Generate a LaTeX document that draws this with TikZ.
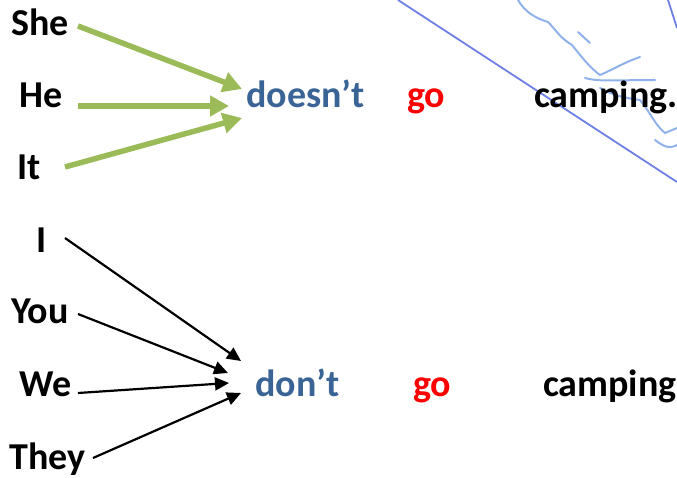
\documentclass[tikz,border=0pt]{standalone}
\usepackage{fontspec}
\setmainfont{Carlito}
\usetikzlibrary{arrows.meta}
\definecolor{gArrow}{HTML}{9BBB59}
\definecolor{auxBlue}{HTML}{3A6496}
\definecolor{penLine}{HTML}{6E7FE6}
\definecolor{penScrib}{HTML}{8FB2EA}
\tikzset{
  word/.style={anchor=base west,inner sep=0pt,font=\fontsize{38}{43}\selectfont\bfseries},
  aux/.style={word,text=auxBlue},
  verb/.style={word,text=red},
  garrow/.style={draw=gArrow,line width=5.5pt,-{Triangle[length=19pt,width=20pt]}},
  barrow/.style={draw=black,line width=2.2pt,-{Triangle[length=14pt,width=13pt]}},
  pen/.style={draw=penLine,line width=1.8pt},
  scrib/.style={draw=penScrib,line width=2pt,line cap=round,line join=round}
}
\begin{document}
\begin{tikzpicture}[x=1pt,y=-1pt]
\useasboundingbox (0,0) rectangle (677,478);
% scanned pen marks
\draw[pen] (398,0) -- (677,182);
\draw[pen] (668,0) -- (677,28);
\draw[scrib] (518,0) .. controls (525,12) and (535,18) .. (548,22)
  .. controls (556,30) and (560,38) .. (572,45)
  .. controls (580,55) and (590,68) .. (600,75)
  .. controls (612,70) and (625,62) .. (640,57);
\draw[scrib] (578,32) -- (590,43);
\draw[scrib] (585,78) .. controls (600,82) and (615,80) .. (655,80);
\draw[scrib] (600,88) .. controls (612,95) and (625,98) .. (640,100)
  .. controls (650,112) and (655,125) .. (665,133) -- (677,128);
\draw[scrib] (655,140) .. controls (662,145) and (668,150) .. (677,145);
% words
\node[word] (She) at (11,36) {She};
\node[word] (He) at (19,108) {He};
\node[word] (It) at (17,180) {It};
\node[aux] (doesnt) at (246,108) {doesn’t};
\node[verb] (go1) at (407,108) {go};
\node[word] (camp1) at (534,108) {camping.};
\node[word] (I) at (36,253) {I};
\node[word] (You) at (11,323) {You};
\node[word] (We) at (19,396) {We};
\node[word] (They) at (9,469) {They};
\node[aux] (dont) at (255,396) {don’t};
\node[verb] (go2) at (413,396) {go};
\node[word] (camp2) at (543,396) {camping};
% arrow ends
\coordinate (sA) at (78,26);  \coordinate (tA) at (242,89);
\coordinate (sB) at (78,106); \coordinate (tB) at (229,106);
\coordinate (sC) at (65,167); \coordinate (tC) at (242,118);
\coordinate (sD) at (65,238); \coordinate (tD) at (241,361);
\coordinate (sE) at (78,314); \coordinate (tE) at (228,373);
\coordinate (sF) at (78,393); \coordinate (tF) at (229,383);
\coordinate (sG) at (93,458); \coordinate (tG) at (241,393);
% arrows
\draw[garrow] (sA) -- (tA);
\draw[garrow] (sB) -- (tB);
\draw[garrow] (sC) -- (tC);
\draw[barrow] (sD) -- (tD);
\draw[barrow] (sE) -- (tE);
\draw[barrow] (sF) -- (tF);
\draw[barrow] (sG) -- (tG);
\end{tikzpicture}
\end{document}
